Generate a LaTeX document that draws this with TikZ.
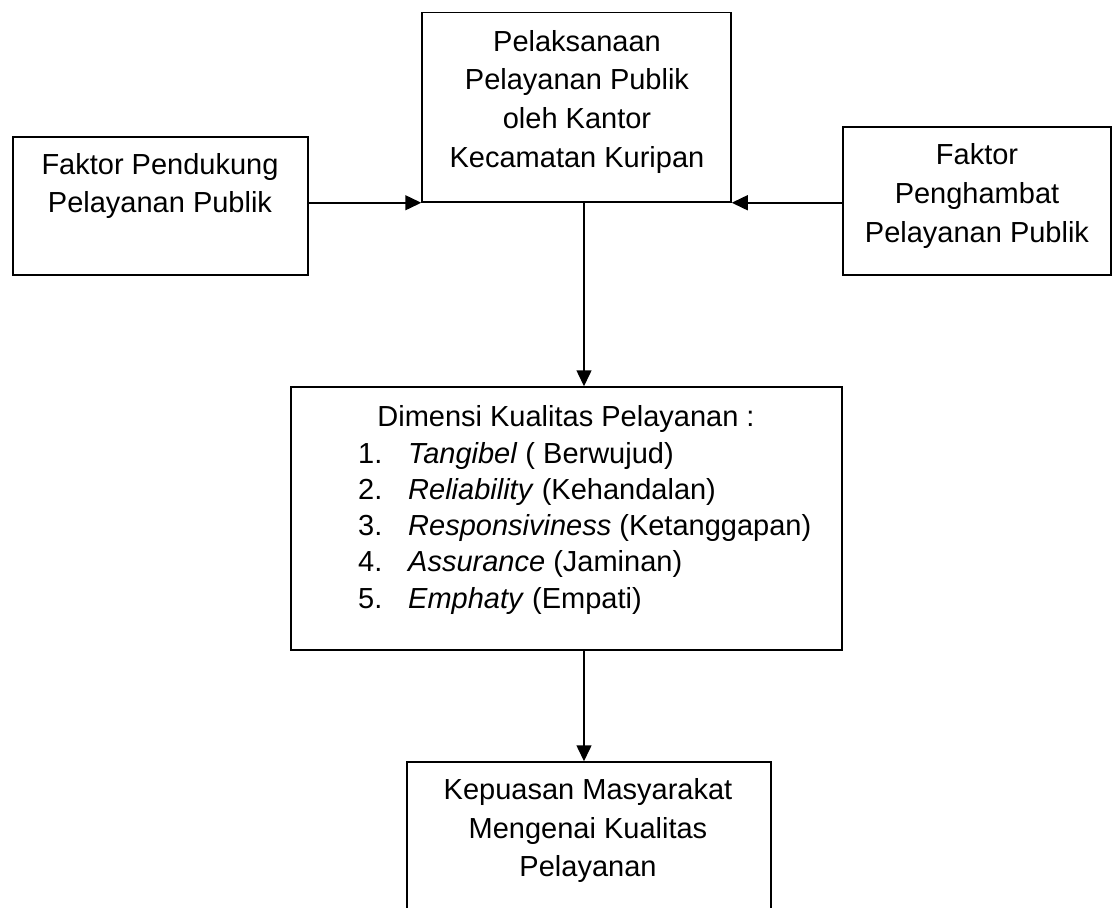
\documentclass[tikz,border=0pt]{standalone}
\usepackage{fontspec}
\setmainfont{Liberation Sans}
\usetikzlibrary{arrows.meta}
\tikzset{
  box/.style={draw=black, line width=1.5pt, rectangle, inner sep=0pt},
  txt/.style={anchor=base, inner sep=0pt, font=\fontsize{29}{35}\selectfont},
  txtl/.style={anchor=base west, inner sep=0pt, font=\fontsize{29}{35}\selectfont},
  arr/.style={line width=1.5pt, -{Triangle[length=16pt,width=15pt]}}
}
\begin{document}
\begin{tikzpicture}[x=1pt,y=-1pt]
\useasboundingbox (0,0) rectangle (1117,908);
% boxes
\node[box, minimum width=309pt, minimum height=189.3pt] (top) at (576.5,107.35) {};
\node[box, minimum width=295pt, minimum height=138pt] (left) at (160.5,206) {};
\node[box, minimum width=268pt, minimum height=148pt] (right) at (977,201) {};
\node[box, minimum width=551pt, minimum height=263pt] (mid) at (566.5,518.5) {};
\node[box, minimum width=364pt, minimum height=188pt] (bot) at (589,856) {};
% texts
\node[txt] (t1) at (577,51) {Pelaksanaan};
\node[txt] (t2) at (577,89.7) {Pelayanan Publik};
\node[txt] (t3) at (577,128.4) {oleh Kantor};
\node[txt] (t4) at (577,167) {Kecamatan Kuripan};
\node[txt] (l1) at (160,174) {Faktor Pendukung};
\node[txt] (l2) at (160,212) {Pelayanan Publik};
\node[txt] (r1) at (977,164) {Faktor};
\node[txt] (r2) at (977,203) {Penghambat};
\node[txt] (r3) at (977,242) {Pelayanan Publik};
\node[txt] (m0) at (566,426) {Dimensi Kualitas Pelayanan :};
\node[txtl] (n1) at (358,463) {1.};
\node[txtl] (n2) at (358,499.3) {2.};
\node[txtl] (n3) at (358,535.6) {3.};
\node[txtl] (n4) at (358,571.9) {4.};
\node[txtl] (n5) at (358,608.2) {5.};
\node[txtl] (i1) at (408,463) {\textit{Tangibel} ( Berwujud)};
\node[txtl] (i2) at (408,499.3) {\textit{Reliability} (Kehandalan)};
\node[txtl] (i3) at (408,535.6) {\textit{Responsiviness} (Ketanggapan)};
\node[txtl] (i4) at (408,571.9) {\textit{Assurance} (Jaminan)};
\node[txtl] (i5) at (408,608.2) {\textit{Emphaty} (Empati)};
\node[txt] (b1) at (588,799) {Kepuasan Masyarakat};
\node[txt] (b2) at (588,838) {Mengenai Kualitas};
\node[txt] (b3) at (588,876) {Pelayanan};
% connectors
\coordinate (vx) at (584,0);
\draw[arr] (left.east |- top.south west) -- (top.south west);
\draw[arr] (right.west |- top.south east) -- (top.south east);
\draw[arr] (vx |- top.south) -- (vx |- mid.north);
\draw[arr] (vx |- mid.south) -- (vx |- bot.north);
\end{tikzpicture}
\end{document}
